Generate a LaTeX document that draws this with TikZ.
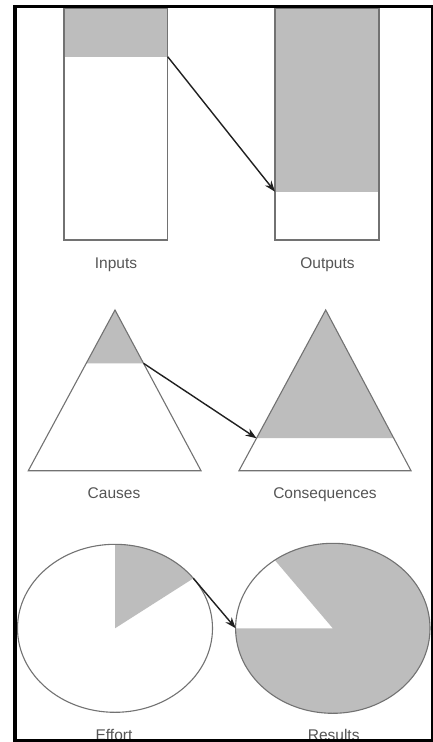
\documentclass[tikz,border=0pt]{standalone}
\usepackage{fontspec}
\setmainfont{Liberation Sans}
\usetikzlibrary{arrows.meta,calc}
\definecolor{shade}{HTML}{BDBDBD}
\definecolor{edge}{HTML}{727272}
\definecolor{lbl}{HTML}{555555}
\definecolor{arr}{HTML}{202020}
\tikzset{
  shapeline/.style={draw=edge,line width=1.1pt},
  shadefill/.style={fill=shade},
  conn/.style={draw=arr,line width=1.4pt,-{Stealth[length=11pt,width=8pt]}},
  lab/.style={text=lbl,font=\fontsize{15.5}{18}\selectfont,anchor=base,inner sep=0pt},
  frameside/.style={fill=black}
}
\begin{document}
\begin{tikzpicture}[x=1pt,y=-1pt]
\useasboundingbox (0,0) rectangle (433,742);
\fill[white] (0,0) rectangle (433,742);
% ---- rectangles
\fill[shadefill] (64,8) rectangle (167.7,56.7);
\draw[shapeline] (64,8) rectangle (167.7,240);
\fill[shadefill] (275,8) rectangle (379,191.7);
\draw[shapeline] (275,8) rectangle (379,240);
\coordinate (inCut) at (167.7,56.7);
\coordinate (outCut) at (275,191.7);
\draw[conn] (inCut) -- (outCut);
\node[lab] (inputs) at (116,268.3) {Inputs};
\node[lab] (outputs) at (327.5,268.3) {Outputs};
% ---- triangles
\coordinate (cA) at (115,310);
\coordinate (cL) at (28.3,470.7);
\coordinate (cR) at (201,470.7);
\coordinate (qA) at (325.7,310);
\coordinate (qL) at (239,470.7);
\coordinate (qR) at (411,470.7);
\coordinate (cCutL) at ($(cA)!0.332!(cL)$);
\coordinate (cCutR) at ($(cA)!0.332!(cR)$);
\coordinate (qCutL) at ($(qA)!0.798!(qL)$);
\coordinate (qCutR) at ($(qA)!0.798!(qR)$);
\fill[shadefill] (cA) -- (cCutL) -- (cCutR) -- cycle;
\fill[shadefill] (qA) -- (qCutL) -- (qCutR) -- cycle;
\draw[shapeline,line join=miter] (cA) -- (cL) -- (cR) -- cycle;
\draw[shapeline,line join=miter] (qA) -- (qL) -- (qR) -- cycle;
\draw[conn] (cCutR) -- (qCutL);
\node[lab] (causes) at (114,498.3) {Causes};
\node[lab] (consequences) at (325,498.3) {Consequences};
% ---- ellipses
\coordinate (eC) at (115,628.3);
\coordinate (rC) at (332.8,628.3);
\fill[shadefill] (eC) -- (115,544.3) arc[start angle=90,end angle=36.5,x radius=97.5pt,y radius=84pt] coordinate (eCut) -- cycle;
\draw[shapeline] (eC) ellipse[x radius=97.5pt,y radius=84pt];
\fill[shadefill] (rC) -- ($(rC)+(-58.0,-68.2)$) arc[start angle=126.7,end angle=-180,x radius=97.2pt,y radius=85pt] coordinate (rLeft) -- cycle;
\draw[shapeline] (rC) ellipse[x radius=97.2pt,y radius=85pt];
\draw[conn] (eCut) -- (rLeft);
\node[lab] (effort) at (114,740) {Effort};
\node[lab] (results) at (333.7,740) {Results};
% ---- frame
\fill[frameside] (13,5) rectangle (432,8);
\fill[frameside] (13,5) rectangle (17,742);
\fill[frameside] (430.5,5) rectangle (432.5,742);
\fill[frameside] (13,739) rectangle (432.5,742);
\end{tikzpicture}
\end{document}
